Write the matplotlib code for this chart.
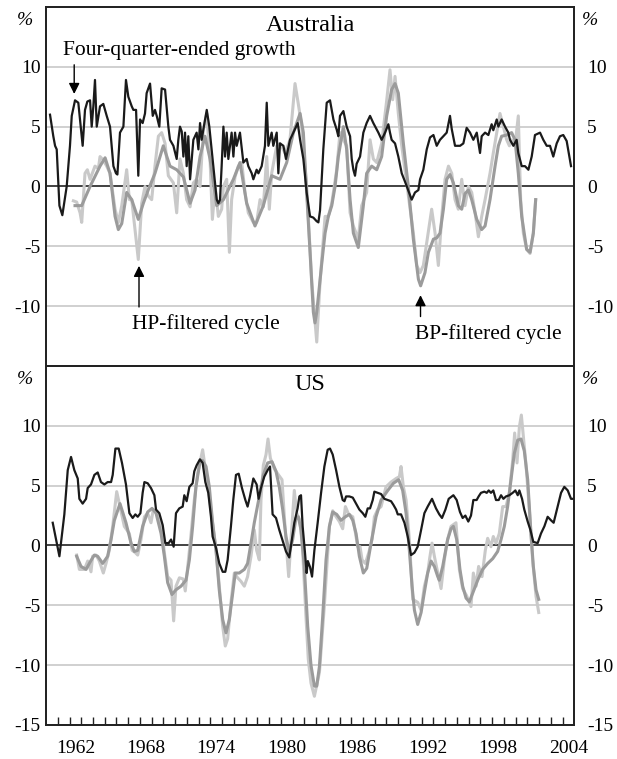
import matplotlib
matplotlib.use("Agg")
import matplotlib.pyplot as plt

plt.rcParams['font.family'] = ['Liberation Serif', 'DejaVu Serif']
plt.rcParams['axes.unicode_minus'] = False

# ---- Australia ----
aus_growth_t = [1960.34, 1960.62, 1960.77, 1960.91, 1961.14, 1961.39, 1961.76, 1962.04, 1962.19, 1962.47,
                1962.75, 1963.12, 1963.32, 1963.52, 1963.75, 1963.89, 1964.03, 1964.17, 1964.32, 1964.60,
                1964.88, 1965.17, 1965.45, 1965.74, 1965.96, 1966.08, 1966.30, 1966.59, 1966.81, 1967.01,
                1967.30, 1967.44, 1967.67, 1967.86, 1968.01, 1968.23, 1968.43, 1968.57, 1968.86, 1969.09,
                1969.28, 1969.43, 1969.65, 1969.85, 1970.14, 1970.42, 1970.56, 1970.85, 1971.13, 1971.27,
                1971.41, 1971.56, 1971.70, 1971.84, 1971.98, 1972.12, 1972.27, 1972.41, 1972.55, 1972.83,
                1972.98, 1973.12, 1973.26, 1973.40, 1973.69, 1973.91, 1974.25, 1974.54, 1974.68, 1974.82,
                1974.96, 1975.11, 1975.25, 1975.39, 1975.53, 1975.81, 1975.96, 1976.10, 1976.24, 1976.52,
                1976.81, 1977.09, 1977.23, 1977.52, 1977.66, 1977.94, 1978.09, 1978.37, 1978.65, 1978.80,
                1978.94, 1979.22, 1979.36, 1979.65, 1979.79, 1979.93, 1980.22, 1980.44, 1980.78, 1981.07,
                1981.44, 1981.64, 1981.92, 1982.20, 1982.49, 1982.77, 1983.05, 1983.20, 1983.34, 1983.62,
                1983.91, 1984.19, 1984.48, 1984.76, 1984.90, 1985.04, 1985.33, 1985.61, 1985.90, 1986.04,
                1986.18, 1986.32, 1986.46, 1986.75, 1987.03, 1987.31, 1987.60, 1987.88, 1988.31, 1988.59,
                1988.88, 1989.16, 1989.30, 1989.44, 1989.73, 1990.01, 1990.30, 1990.58, 1991.15, 1991.43,
                1991.72, 1991.86, 1992.14, 1992.43, 1992.71, 1993.00, 1993.28, 1993.56, 1993.85, 1994.13,
                1994.41, 1994.56, 1994.84, 1995.27, 1995.55, 1995.83, 1996.12, 1996.40, 1996.69, 1996.97,
                1997.11, 1997.40, 1997.68, 1997.96, 1998.10, 1998.39, 1998.53, 1998.81, 1999.10, 1999.38,
                1999.52, 1999.81, 2000.09, 2000.23, 2000.52, 2000.80, 2001.09, 2001.37, 2001.65, 2002.08,
                2002.36, 2002.65, 2002.93, 2003.21, 2003.50, 2003.78, 2004.06, 2004.35, 2004.72]
aus_growth = [6.0, 4.2, 3.4, 3.1, -1.6, -2.4, 0.0, 3.4, 5.9, 7.2,
              7.0, 3.4, 6.4, 7.1, 7.2, 5.0, 6.7, 8.9, 5.0, 6.7,
              6.9, 5.9, 5.0, 1.7, 1.1, 1.0, 4.5, 5.0, 8.9, 7.5,
              6.7, 6.4, 6.4, 0.9, 5.6, 5.3, 6.1, 7.8, 8.6, 5.9,
              6.4, 5.9, 5.0, 8.2, 8.1, 5.0, 3.9, 3.4, 2.3, 3.9,
              5.0, 4.6, 2.5, 4.5, 1.7, 4.2, 0.6, 2.3, 3.9, 4.5,
              3.1, 5.3, 3.9, 4.75, 6.4, 5.0, 1.7, -1.1, -1.4, -1.1,
              1.7, 5.0, 2.5, 4.5, 2.3, 4.5, 2.5, 4.5, 3.4, 4.5,
              2.0, 2.3, 1.7, 1.1, 0.6, 1.4, 1.1, 1.7, 3.4, 7.0,
              3.4, 4.5, 3.4, 4.5, 1.1, 3.6, 3.4, 2.3, 3.9, 4.5,
              5.3, 3.9, 2.3, -0.5, -2.5, -2.6, -2.9, -3.0, -2.0, 3.1,
              7.0, 7.2, 5.6, 4.75, 4.2, 5.9, 6.3, 5.0, 4.2, 2.3,
              1.4, 0.9, 1.9, 2.5, 4.5, 5.3, 5.9, 5.3, 4.5, 3.9,
              4.5, 5.2, 4.5, 3.9, 3.6, 2.5, 1.1, 0.4, -1.1, -0.5,
              -0.3, 0.6, 1.4, 3.1, 4.1, 4.3, 3.4, 3.9, 4.2, 4.5,
              5.9, 4.8, 3.4, 3.4, 3.6, 4.9, 4.5, 3.9, 4.5, 2.8,
              4.2, 4.5, 4.3, 5.2, 4.7, 5.6, 5.0, 5.6, 5.0, 4.5,
              3.9, 3.4, 3.9, 2.8, 1.7, 1.7, 1.4, 2.5, 4.3, 4.5,
              3.9, 3.4, 3.4, 2.5, 3.6, 4.2, 4.3, 3.8, 1.7]

aus_hp_t = [1962.33, 1962.61, 1962.90, 1963.04, 1963.32, 1963.52, 1963.75, 1964.17, 1964.46, 1964.60,
            1964.88, 1965.17, 1965.45, 1965.88, 1966.16, 1966.45, 1966.87, 1967.10, 1967.30, 1967.58,
            1967.86, 1968.15, 1968.43, 1968.72, 1969.00, 1969.28, 1969.57, 1969.85, 1970.14, 1970.42,
            1970.85, 1971.13, 1971.41, 1971.70, 1971.98, 1972.27, 1972.55, 1972.83, 1973.12, 1973.40,
            1973.69, 1973.97, 1974.17, 1974.40, 1974.68, 1974.96, 1975.11, 1975.39, 1975.62, 1975.81,
            1976.10, 1976.38, 1976.67, 1976.95, 1977.23, 1977.66, 1977.94, 1978.23, 1978.51, 1978.80,
            1979.02, 1979.22, 1979.65, 1979.93, 1980.36, 1980.78, 1981.21, 1981.49, 1981.78, 1982.20,
            1982.64, 1983.06, 1983.34, 1983.77, 1984.05, 1984.34, 1984.76, 1985.04, 1985.33, 1985.61,
            1985.90, 1986.18, 1986.60, 1986.89, 1987.31, 1987.60, 1987.88, 1988.17, 1988.59, 1989.02,
            1989.30, 1989.53, 1989.73, 1990.01, 1990.30, 1990.72, 1991.29, 1991.58, 1991.86, 1992.14,
            1992.43, 1992.85, 1993.14, 1993.42, 1993.71, 1993.99, 1994.28, 1994.56, 1994.84, 1995.12,
            1995.41, 1995.69, 1995.98, 1996.26, 1996.55, 1996.83, 1997.11, 1997.40, 1997.82, 1998.10,
            1998.39, 1998.67, 1998.96, 1999.24, 1999.47, 1999.66, 1999.95, 2000.23, 2000.43, 2000.66,
            2000.94, 2001.23, 2001.51, 2001.71]
aus_hp = [-1.2, -1.3, -2.2, -3.0, 1.1, 1.4, 0.6, 1.7, 1.5, 2.5,
          2.2, 1.7, 1.1, -1.9, -3.0, -1.6, 1.4, -1.1, -1.1, -3.6,
          -6.1, -1.4, 0.0, -0.8, -1.1, 1.7, 4.2, 4.5, 3.6, 0.9,
          0.3, -2.2, 2.3, 1.1, -1.1, -1.7, 0.3, 0.6, 0.0, 4.75,
          6.1, 2.3, -2.75, 0.0, -2.5, -1.9, 0.0, 0.6, -5.5, -1.1,
          0.8, 1.7, 2.0, -0.5, -2.2, -3.0, -3.0, -1.1, -1.7, 2.5,
          -1.9, 1.1, 3.4, 3.6, 2.8, 3.9, 8.6, 6.9, 5.0, 0.0,
          -8.0, -13.0, -8.0, -2.5, -2.5, -1.4, 1.4, 4.5, 3.9, 3.4,
          -2.2, -3.3, -4.4, -1.6, -0.5, 3.9, 2.3, 2.0, 3.6, 7.2,
          9.75, 7.25, 9.2, 6.1, 3.4, 0.3, -3.9, -6.6, -7.2, -6.6,
          -4.7, -1.9, -3.9, -6.6, -2.5, 0.6, 1.7, 1.1, -1.1, -1.9,
          0.6, -1.6, 0.0, -0.5, -2.2, -4.2, -2.5, -1.1, 1.1, 2.8,
          4.5, 6.1, 5.0, 3.9, 3.4, 3.9, 3.4, 5.9, -1.1, -3.9,
          -5.25, -5.6, -3.9, -1.1]

aus_bp_t = [1962.47, 1963.04, 1963.75, 1964.60, 1965.03, 1965.45, 1965.88, 1966.16, 1966.45, 1966.87,
            1967.30, 1967.86, 1968.29, 1968.72, 1969.28, 1969.99, 1970.56, 1971.13, 1971.70, 1972.27,
            1972.69, 1973.12, 1973.54, 1973.97, 1974.54, 1975.11, 1975.96, 1976.52, 1977.09, 1977.80,
            1978.51, 1979.22, 1979.93, 1980.50, 1981.07, 1981.64, 1981.92, 1982.20, 1982.49, 1982.77,
            1982.91, 1983.06, 1983.48, 1983.77, 1984.05, 1984.34, 1984.62, 1984.90, 1985.33, 1985.61,
            1985.90, 1986.18, 1986.60, 1987.03, 1987.31, 1987.74, 1988.17, 1988.59, 1989.02, 1989.44,
            1989.73, 1990.01, 1990.44, 1990.86, 1991.29, 1991.72, 1991.91, 1992.28, 1992.57, 1993.00,
            1993.28, 1993.56, 1993.85, 1994.13, 1994.41, 1994.70, 1995.12, 1995.41, 1995.69, 1995.98,
            1996.26, 1996.69, 1997.11, 1997.40, 1997.82, 1998.25, 1998.53, 1998.81, 1999.24, 1999.66,
            1999.95, 2000.23, 2000.52, 2000.94, 2001.23, 2001.51, 2001.71]
aus_bp = [-1.6, -1.6, 0.0, 1.7, 2.4, 1.1, -2.5, -3.6, -3.1, -0.5,
          -1.1, -2.75, -1.4, -0.25, 1.1, 3.4, 1.7, 1.4, 0.8, -1.4,
          -0.3, 2.5, 4.2, 2.3, -1.6, -1.1, 0.6, 2.0, -1.4, -3.3,
          -1.6, 0.9, 0.6, 2.0, 4.5, 6.1, 4.5, -0.5, -5.5, -10.5,
          -11.4, -10.5, -6.5, -3.9, -2.5, -1.6, 0.0, 2.5, 5.0, 3.1,
          -1.1, -3.9, -5.1, -1.6, 1.1, 1.7, 1.4, 2.5, 5.9, 8.1,
          8.6, 7.8, 3.6, 0.0, -4.4, -7.75, -8.3, -7.2, -5.5, -4.4,
          -4.3, -3.9, -1.9, 0.6, 1.0, 0.3, -1.6, -1.9, -0.6, -0.3,
          -1.1, -2.75, -3.6, -3.3, -1.1, 1.7, 3.4, 4.2, 4.3, 4.5,
          3.9, 1.1, -2.5, -5.25, -5.5, -3.9, -1.1]

# ---- US ----
us_growth_t = [1960.57, 1961.14, 1961.56, 1961.85, 1962.13, 1962.41, 1962.70, 1962.84, 1963.12, 1963.41,
               1963.55, 1963.83, 1964.12, 1964.40, 1964.68, 1964.97, 1965.25, 1965.54, 1965.68, 1965.91,
               1966.19, 1966.47, 1966.81, 1967.10, 1967.38, 1967.61, 1967.81, 1968.04, 1968.23, 1968.38,
               1968.66, 1968.94, 1969.23, 1969.37, 1969.65, 1969.94, 1970.16, 1970.45, 1970.65, 1970.87,
               1971.07, 1971.35, 1971.64, 1971.78, 1971.98, 1972.21, 1972.49, 1972.63, 1972.83, 1973.11,
               1973.34, 1973.57, 1973.82, 1974.05, 1974.19, 1974.48, 1974.76, 1975.05, 1975.27, 1975.47,
               1975.75, 1975.95, 1976.18, 1976.41, 1976.69, 1976.98, 1977.17, 1977.37, 1977.66, 1977.94,
               1978.11, 1978.31, 1978.59, 1978.88, 1979.08, 1979.30, 1979.59, 1979.87, 1980.44, 1980.72,
               1981.15, 1981.43, 1981.58, 1981.72, 1981.86, 1982.05, 1982.20, 1982.30, 1982.49, 1982.66,
               1982.86, 1983.14, 1983.43, 1983.71, 1983.99, 1984.19, 1984.42, 1984.71, 1984.99, 1985.27,
               1985.42, 1985.56, 1985.84, 1986.13, 1986.41, 1986.69, 1986.98, 1987.20, 1987.40, 1987.60,
               1987.83, 1987.97, 1988.25, 1988.54, 1988.82, 1989.11, 1989.39, 1989.59, 1989.82, 1989.96,
               1990.24, 1990.53, 1990.81, 1991.09, 1991.38, 1991.66, 1991.95, 1992.23, 1992.51, 1992.88,
               1993.22, 1993.50, 1993.73, 1994.02, 1994.30, 1994.70, 1994.98, 1995.26, 1995.49, 1995.72,
               1995.97, 1996.20, 1996.40, 1996.68, 1996.85, 1997.05, 1997.34, 1997.54, 1997.71, 1997.90,
               1998.10, 1998.33, 1998.56, 1998.76, 1998.96, 1999.18, 1999.47, 1999.75, 1999.98, 2000.18,
               2000.32, 2000.55, 2000.74, 2001.03, 2001.26, 2001.51, 2001.88, 2002.16, 2002.45, 2002.73,
               2003.02, 2003.24, 2003.58, 2003.87, 2004.15, 2004.44, 2004.72, 2004.92]
us_growth = [1.9, -0.9, 2.6, 6.3, 7.4, 6.3, 5.6, 3.9, 3.5, 3.9,
             4.8, 5.1, 5.9, 6.1, 5.3, 5.1, 5.3, 5.3, 5.9, 8.1,
             8.1, 6.9, 5.1, 2.7, 2.3, 2.6, 2.4, 2.7, 4.4, 5.3,
             5.2, 4.8, 4.2, 3.0, 2.7, 1.7, 0.2, 0.2, 0.5, -0.1,
             2.7, 3.1, 3.25, 4.2, 3.7, 4.9, 5.2, 6.2, 6.7, 7.2,
             6.9, 5.3, 4.4, 2.4, 0.75, -0.2, -1.5, -2.2, -2.2, -1.2,
             1.6, 3.8, 5.9, 6.0, 4.8, 3.8, 3.25, 4.1, 5.6, 5.1,
             3.9, 4.8, 5.75, 6.3, 6.6, 2.6, 2.3, 1.3, -0.5, -1.0,
             1.9, 3.1, 4.1, 4.2, 1.6, -0.5, -2.3, -1.3, -1.8, -2.6,
             -0.4, 1.9, 4.4, 6.6, 8.0, 8.1, 7.6, 6.3, 4.9, 3.8,
             3.7, 4.1, 4.1, 4.0, 3.5, 3.0, 2.7, 2.4, 3.1, 3.1,
             3.8, 4.5, 4.4, 4.3, 3.9, 3.8, 3.7, 3.4, 3.0, 2.6,
             2.6, 1.9, 0.75, -0.8, -0.6, -0.1, 1.3, 2.7, 3.25, 3.9,
             3.1, 2.6, 2.3, 3.0, 3.9, 4.2, 3.8, 2.8, 2.3, 2.5,
             2.0, 2.5, 3.8, 3.8, 4.1, 4.4, 4.5, 4.4, 4.6, 4.4,
             4.6, 3.8, 3.8, 4.2, 3.9, 4.1, 4.2, 4.4, 4.6, 4.2,
             4.6, 3.9, 3.0, 2.0, 1.3, 0.3, 0.2, 1.0, 1.6, 2.4,
             2.1, 1.9, 3.25, 4.4, 4.9, 4.6, 3.9, 3.9]

us_hp_t = [1962.61, 1962.84, 1963.27, 1963.55, 1963.83, 1963.97, 1964.26, 1964.54, 1964.88, 1965.11,
           1965.39, 1965.68, 1966.02, 1966.30, 1966.67, 1967.10, 1967.33, 1967.61, 1967.81, 1968.09,
           1968.38, 1968.66, 1968.94, 1969.14, 1969.51, 1969.80, 1970.08, 1970.36, 1970.65, 1970.87,
           1971.07, 1971.36, 1971.69, 1971.86, 1972.21, 1972.35, 1972.63, 1972.92, 1973.34, 1973.63,
           1973.91, 1974.19, 1974.48, 1974.76, 1975.05, 1975.27, 1975.47, 1975.75, 1976.04, 1976.32,
           1976.61, 1976.89, 1977.17, 1977.46, 1977.74, 1977.94, 1978.17, 1978.31, 1978.51, 1978.74,
           1978.91, 1979.11, 1979.45, 1979.73, 1980.10, 1980.30, 1980.50, 1980.67, 1980.87, 1981.15,
           1981.35, 1981.63, 1981.86, 1982.14, 1982.34, 1982.57, 1982.86, 1983.29, 1983.71, 1984.14,
           1984.42, 1984.71, 1984.99, 1985.27, 1985.50, 1985.78, 1986.13, 1986.55, 1986.75, 1986.92,
           1987.20, 1987.49, 1987.77, 1987.97, 1988.25, 1988.54, 1988.96, 1989.39, 1989.82, 1990.10,
           1990.24, 1990.44, 1990.67, 1990.95, 1991.24, 1991.66, 1991.95, 1992.23, 1992.51, 1992.66,
           1992.88, 1993.08, 1993.37, 1993.65, 1993.93, 1994.21, 1994.50, 1994.78, 1994.92, 1995.21,
           1995.49, 1995.83, 1996.20, 1996.40, 1996.63, 1996.85, 1997.14, 1997.42, 1997.62, 1997.90,
           1998.10, 1998.33, 1998.61, 1998.90, 1999.18, 1999.47, 1999.75, 1999.92, 2000.12, 2000.32,
           2000.49, 2000.69, 2000.89, 2001.17, 2001.45, 2001.74, 2001.97]
us_hp = [-0.8, -2.0, -2.0, -1.3, -2.2, -0.9, -0.8, -1.3, -2.3, -1.5,
         -0.4, 1.6, 4.5, 3.25, 1.6, 1.0, -0.4, -0.6, -0.8, 0.5,
         2.4, 2.7, 1.9, 3.0, 2.7, 1.9, -0.6, -2.6, -2.9, -6.3,
         -3.4, -2.7, -2.8, -3.8, -0.4, 0.9, 3.8, 6.0, 8.0, 6.0,
         4.1, 1.9, -0.4, -3.4, -6.75, -8.4, -7.8, -4.8, -2.3, -2.7,
         -3.0, -3.4, -2.6, -0.9, 1.3, -0.4, -1.2, 3.8, 6.7, 7.6,
         8.9, 7.3, 6.4, 6.0, 5.5, 2.4, -0.4, -2.6, 0.5, 4.6,
         2.7, 2.1, -0.4, -5.9, -9.5, -11.5, -12.6, -10.6, -5.0, 1.6,
         2.9, 2.4, 2.0, 1.4, 3.25, 2.6, 2.4, -0.1, -0.1, -1.2,
         -1.5, -0.6, 0.5, 2.4, 3.0, 3.25, 4.9, 5.3, 5.6, 5.75,
         6.6, 4.9, 3.8, 0.5, -4.5, -4.75, -5.4, -3.4, -2.3, -1.2,
         0.2, -0.9, -2.3, -3.6, -1.2, 0.5, 1.6, 1.8, 1.9, -2.0,
         -3.6, -4.2, -5.1, -2.3, -3.4, -1.75, -2.6, -0.4, 0.6, -0.1,
         0.75, 0.2, 1.0, 3.25, 3.25, 4.4, 7.1, 9.4, 6.9, 9.9,
         10.9, 8.8, 6.7, 3.0, -1.2, -4.25, -5.6]

us_bp_t = [1962.61, 1962.98, 1963.41, 1963.83, 1964.12, 1964.40, 1964.83, 1965.25, 1965.54, 1965.82,
           1966.30, 1966.81, 1967.24, 1967.52, 1967.81, 1968.23, 1968.66, 1969.03, 1969.37, 1969.80,
           1970.08, 1970.36, 1970.73, 1971.07, 1971.50, 1971.92, 1972.21, 1972.49, 1972.77, 1973.11,
           1973.34, 1973.63, 1973.91, 1974.19, 1974.48, 1974.76, 1975.05, 1975.33, 1975.61, 1975.90,
           1976.12, 1976.46, 1976.89, 1977.17, 1977.46, 1977.74, 1978.17, 1978.51, 1978.88, 1979.25,
           1979.59, 1979.87, 1980.16, 1980.44, 1980.72, 1981.01, 1981.29, 1981.49, 1981.72, 1982.00,
           1982.29, 1982.57, 1982.86, 1983.06, 1983.29, 1983.57, 1983.85, 1984.14, 1984.42, 1984.76,
           1985.13, 1985.50, 1985.84, 1986.13, 1986.41, 1986.69, 1987.03, 1987.32, 1987.69, 1988.11,
           1988.54, 1989.11, 1989.59, 1990.04, 1990.38, 1990.67, 1990.95, 1991.18, 1991.38, 1991.66,
           1991.95, 1992.23, 1992.51, 1992.80, 1993.08, 1993.37, 1993.50, 1993.79, 1994.21, 1994.50,
           1994.70, 1994.98, 1995.26, 1995.49, 1995.78, 1996.06, 1996.34, 1996.77, 1997.19, 1997.62,
           1998.05, 1998.47, 1998.76, 1999.04, 1999.32, 1999.61, 1999.89, 2000.18, 2000.46, 2000.74,
           2001.03, 2001.31, 2001.51, 2001.74, 2001.97]
us_bp = [-0.9, -1.75, -2.0, -1.25, -0.8, -0.9, -1.5, -0.9, 0.5, 2.1,
         3.5, 1.9, 0.2, -0.5, -0.4, 1.6, 2.8, 3.1, 2.7, 1.0,
         -0.9, -3.1, -4.1, -3.7, -3.4, -2.9, -1.2, 1.6, 4.9, 7.0,
         7.1, 6.6, 4.9, 1.9, -0.4, -3.75, -6.2, -7.3, -6.2, -4.0,
         -2.3, -2.3, -2.0, -1.5, 0.2, 1.9, 4.1, 5.9, 6.9, 7.0,
         6.2, 4.9, 3.0, 0.75, -0.6, 0.5, 2.3, 2.4, 1.3, -1.75,
         -6.75, -10.0, -11.75, -11.75, -10.1, -5.9, -1.2, 1.6, 2.8, 2.6,
         2.1, 2.4, 2.6, 2.1, 1.0, -0.9, -2.3, -1.9, 0.2, 2.4,
         3.8, 4.6, 5.2, 5.5, 4.6, 2.7, -0.4, -3.4, -5.4, -6.6,
         -5.6, -3.9, -2.3, -1.3, -1.75, -2.6, -2.9, -1.75, 0.5, 1.4,
         1.6, 0.5, -2.0, -3.4, -4.4, -4.7, -4.0, -2.9, -2.0, -1.5,
         -1.1, -0.5, 0.5, 1.6, 3.25, 5.5, 7.7, 8.8, 8.9, 7.9,
         5.5, 1.0, -1.75, -3.7, -4.5]

year_labels = [1962, 1968, 1974, 1980, 1986, 1992, 1998, 2004]

BLACK = '#1a1a1a'
HP_COL = '#c9c9c9'
BP_COL = '#9b9b9b'
GRID = '#c8c8c8'

fig = plt.figure(figsize=(6.17, 7.59), dpi=100)
ax_top = fig.add_axes([0.0746, 0.5178, 0.8562, 0.4730])
ax_bot = fig.add_axes([0.0746, 0.0448, 0.8562, 0.4730])


def style(ax, yticks, title):
    ax.set_xlim(1960, 2005)
    ax.set_ylim(-15, 15)
    for v in yticks:
        if v != 0:
            ax.axhline(v, color=GRID, lw=1.2, zorder=1)
    ax.axhline(0, color='#333333', lw=1.3, zorder=2)
    ax.set_yticks(yticks)
    ax.set_yticklabels([str(v) for v in yticks])
    ax.tick_params(axis='y', length=0, labelsize=14, pad=4)
    axr = ax.twinx()
    axr.set_ylim(-15, 15)
    axr.set_yticks(yticks)
    axr.set_yticklabels([str(v) for v in yticks])
    axr.tick_params(axis='y', length=0, labelsize=14, pad=9)
    for a in (ax, axr):
        for s in a.spines.values():
            s.set_linewidth(1.3)
            s.set_color('#222222')
    ax.text(-0.04, 0.962, '%', transform=ax.transAxes, fontsize=14,
            ha='center', va='center', style='italic')
    ax.text(1.03, 0.962, '%', transform=ax.transAxes, fontsize=14,
            ha='center', va='center', style='italic')
    ax.text(0.5, 0.948, title, transform=ax.transAxes, fontsize=17.5,
            ha='center', va='center')


style(ax_top, [-10, -5, 0, 5, 10], 'Australia')
style(ax_bot, [-15, -10, -5, 0, 5, 10], 'US')

ax_top.plot(aus_hp_t, aus_hp, color=HP_COL, lw=2.2, zorder=3)
ax_top.plot(aus_bp_t, aus_bp, color=BP_COL, lw=2.2, zorder=4)
ax_top.plot(aus_growth_t, aus_growth, color=BLACK, lw=1.6, zorder=5)

ax_bot.plot(us_hp_t, us_hp, color=HP_COL, lw=2.2, zorder=3)
ax_bot.plot(us_bp_t, us_bp, color=BP_COL, lw=2.2, zorder=4)
ax_bot.plot(us_growth_t, us_growth, color=BLACK, lw=1.6, zorder=5)

# x axis
ax_top.set_xticks([])
ax_top.tick_params(axis='x', length=0)
ax_bot.set_xticks([y + 0.5 for y in year_labels])
ax_bot.set_xticklabels([str(y) for y in year_labels])
ax_bot.set_xticks(list(range(1961, 2005)), minor=True)
ax_bot.tick_params(axis='x', which='major', length=0, labelsize=14, pad=11)
ax_bot.tick_params(axis='x', which='minor', direction='in', length=6, width=1.0,
                   color='#222222')

arrow = dict(arrowstyle='-|>', color='black', lw=1.0, mutation_scale=16)
ax_top.annotate('', xy=(1962.4, 7.5), xytext=(1962.4, 10.4), arrowprops=arrow, zorder=6)
ax_top.text(1961.45, 11.4, 'Four-quarter-ended growth', fontsize=15.5, ha='left', va='center')
ax_top.annotate('', xy=(1967.92, -6.4), xytext=(1967.92, -10.3), arrowprops=arrow, zorder=6)
ax_top.text(1967.33, -11.5, 'HP-filtered cycle', fontsize=15.5, ha='left', va='center')
ax_top.annotate('', xy=(1991.9, -8.85), xytext=(1991.9, -11.1), arrowprops=arrow, zorder=6)
ax_top.text(1991.43, -12.3, 'BP-filtered cycle', fontsize=15.5, ha='left', va='center')

fig.savefig('out.png', dpi=100)
